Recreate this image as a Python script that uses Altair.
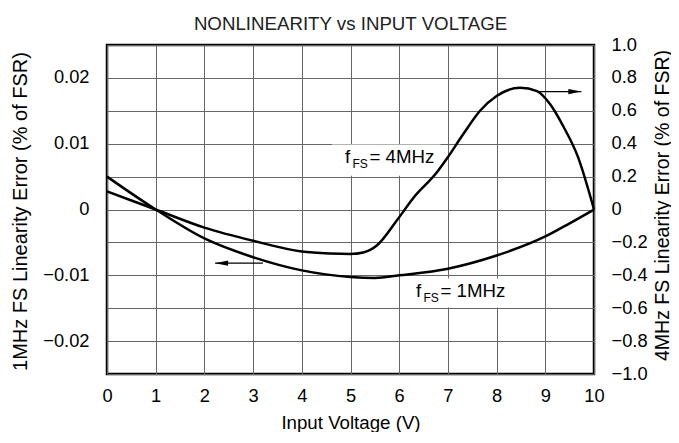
import altair as alt
import pandas as pd

FONT = "Liberation Sans"

# ---- data ----
volts_1mhz = [0, 1, 2, 3, 4, 5, 5.5, 6, 7, 8, 9, 9.5, 10]
err_1mhz = [0.005, 0.0, -0.0044, -0.00725, -0.00925, -0.01025, -0.0104, -0.0100,
            -0.0090, -0.0070, -0.0041, -0.0021, 0.0]

volts_4mhz = [0, 1, 2, 3, 4, 4.58, 5.0, 5.26, 5.54, 5.95, 6.29, 6.77, 6.98, 7.32,
              7.66, 8.0, 8.48, 8.83, 9.1, 9.38, 9.67, 10]
err_4mhz = [0.11, 0.0, -0.11, -0.19, -0.255, -0.267, -0.27, -0.261, -0.219, -0.067,
            0.07, 0.225, 0.31, 0.46, 0.60, 0.69, 0.74, 0.72, 0.64, 0.50, 0.32, 0.0]

x_ticks = list(range(11))
left_ticks = [-0.02, -0.01, 0, 0.01, 0.02]
right_ticks = [-1.0, -0.8, -0.6, -0.4, -0.2, 0, 0.2, 0.4, 0.6, 0.8, 1.0]

# annotation labels (positions in data units: volts, right-axis units)
label_x = [4.887, 6.345]
label_y = [0.28, -0.529]
label_main = ["f", "f"]
label_sub = ["FS", "FS"]
label_rest = ["= 4MHz", "= 1MHz"]

box_x = [4.62, 6.2]
box_x2 = [6.85, 8.4]
box_y = [0.205, -0.42]
box_y2 = [0.395, -0.595]

arrow_dir = ["left", "right"]
arrow_tip = [2.22, 9.74]
arrow_tail = [3.2, 8.85]
arrow_y = [-0.326, 0.717]

# ---- tables ----
df1 = pd.DataFrame({"v": volts_1mhz, "e": err_1mhz})
df4 = pd.DataFrame({"v": volts_4mhz, "e": err_4mhz})
dlab = pd.DataFrame({"x": label_x, "y": label_y, "m": label_main, "s": label_sub, "r": label_rest})
dbox = pd.DataFrame({"x": box_x, "x2": box_x2, "y": box_y, "y2": box_y2})
darr = pd.DataFrame({"dir": arrow_dir, "tip": arrow_tip, "tail": arrow_tail, "y": arrow_y})

W, H = 487, 329
GRID = "#666666"
FS = 18.3
FS_YT = 20

x_axis = alt.Axis(values=x_ticks, title="Input Voltage (V)", grid=True, gridColor=GRID,
                  gridWidth=1, domain=False, ticks=True, tickSize=0, labelPadding=13,
                  labelFlush=False, labelOverlap=False, format="d",
                  labelFont=FONT, labelFontSize=FS, labelColor="black",
                  titleFont=FONT, titleFontSize=18.7, titleFontWeight="normal",
                  titleColor="black", titleY=54, titleBaseline="alphabetic")
x_scale = alt.Scale(domain=[0, 10], nice=False, zero=False)

def X(field):
    return alt.X(field, type="quantitative", scale=x_scale, axis=x_axis)

left_axis = alt.Axis(orient="left", values=left_ticks, grid=False, domain=False,
                     ticks=True, tickSize=0, labelPadding=18, labelOverlap=False,
                     labelExpr="datum.value == 0 ? '0' : replace(format(datum.value, '.2f'), '-', '\u2212')",
                     labelFont=FONT, labelFontSize=FS, labelColor="black",
                     title="1MHz FS Linearity Error (% of FSR)", titleFont=FONT,
                     titleFontSize=FS_YT, titleFontWeight="normal", titleColor="black",
                     titleAngle=270, titleX=-87, titleY=166, titleAlign="center",
                     titleBaseline="middle")
left_scale = alt.Scale(domain=[-0.025, 0.025], nice=False, zero=False)

right_axis = alt.Axis(orient="right", values=right_ticks, grid=True, gridColor=GRID,
                      gridWidth=1, domain=False, ticks=True, tickSize=0, labelPadding=17,
                      labelOverlap=False,
                      labelExpr="datum.value == 0 ? '0' : replace(format(datum.value, '.1f'), '-', '\u2212')",
                      labelFont=FONT, labelFontSize=FS, labelColor="black",
                      title="4MHz FS Linearity Error (% of FSR)", titleFont=FONT,
                      titleFontSize=19.5, titleFontWeight="normal", titleColor="black",
                      titleAngle=270, titleX=74, titleY=160, titleAlign="center",
                      titleBaseline="alphabetic")
right_scale = alt.Scale(domain=[-1, 1], nice=False, zero=False)

def YR(field):
    return alt.Y(field, type="quantitative", scale=right_scale, axis=right_axis)

# ---- left group (1 MHz, left axis) ----
line1 = alt.Chart(df1).mark_line(color="black", strokeWidth=2.5, interpolate="monotone").encode(
    x=X("v"),
    y=alt.Y("e", type="quantitative", scale=left_scale, axis=left_axis),
)
left_group = alt.layer(line1)

# ---- right group (4 MHz, right axis, annotations) ----
boxes = alt.Chart(dbox).mark_rect(color="white").encode(
    x=X("x"), x2="x2", y=YR("y"), y2="y2"
)
line4 = alt.Chart(df4).mark_line(color="black", strokeWidth=2.5, interpolate="monotone").encode(
    x=X("v"), y=YR("e")
)
txt_main = alt.Chart(dlab).mark_text(align="left", baseline="alphabetic", font=FONT,
                                     fontSize=18.7, color="black").encode(
    x=X("x"), y=YR("y"), text="m:N")
txt_sub = alt.Chart(dlab).mark_text(align="left", baseline="alphabetic", font=FONT,
                                    fontSize=12, color="black", dx=7.5, dy=5).encode(
    x=X("x"), y=YR("y"), text="s:N")
txt_rest = alt.Chart(dlab).mark_text(align="left", baseline="alphabetic", font=FONT,
                                     fontSize=18.7, color="black", dx=24.5).encode(
    x=X("x"), y=YR("y"), text="r:N")
arrow_lines = alt.Chart(darr).mark_rule(color="black", strokeWidth=1.3).encode(
    x=X("tip"), x2="tail", y=YR("y"))
arrow_heads = alt.Chart(darr).mark_point(filled=True, color="black", size=169, opacity=1,
                                         strokeWidth=0).encode(
    x=X("tip"), y=YR("y"),
    shape=alt.Shape("dir:N", scale=alt.Scale(domain=["left", "right"],
                    range=["M0,0L2,-0.4L2,0.4Z", "M0,0L-2,-0.4L-2,0.4Z"]), legend=None))

right_group = alt.layer(boxes, line4, txt_main, txt_sub, txt_rest, arrow_lines, arrow_heads)

chart = alt.layer(left_group, right_group).resolve_scale(y="independent").properties(
    width=W, height=H,
    title=alt.TitleParams("NONLINEARITY vs INPUT VOLTAGE", font=FONT, fontSize=18.7,
                          fontWeight="normal", color="#222222", anchor="middle",
                          baseline="alphabetic", offset=10, dy=24),
    autosize=alt.AutoSizeParams(type="none"),
    padding={"left": 99, "top": 37, "right": 77, "bottom": 58},
).configure_view(stroke="black", strokeWidth=2.5)

chart.save("out.html", embed_options={"renderer": "svg", "actions": False})
